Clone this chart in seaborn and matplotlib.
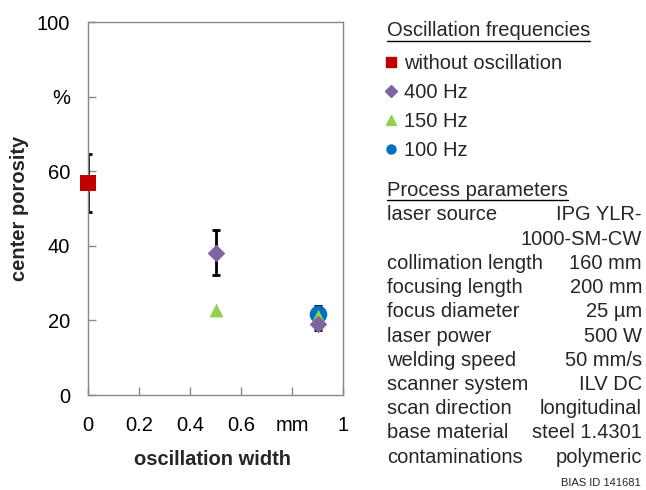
import seaborn as sns
import matplotlib.pyplot as plt
import pandas as pd
from matplotlib.lines import Line2D

# --- data ---
series = ['without oscillation', '400 Hz', '150 Hz', '100 Hz']
width_mm = [0.0, 0.5, 0.9, 0.5, 0.9, 0.9]
group = ['without oscillation', '400 Hz', '400 Hz', '150 Hz', '150 Hz', '100 Hz']
porosity = [56.8, 38.2, 19.0, 22.8, 21.3, 21.8]
err = [7.8, 6.0, 1.5, 0.0, 0.0, 2.1]

x_ticks = [0, 0.2, 0.4, 0.6, 0.8, 1.0]
x_ticklabels = ['0', '0.2', '0.4', '0.6', 'mm', '1']
y_ticks = [0, 20, 40, 60, 80, 100]
y_ticklabels = ['0', '20', '40', '60', '%', '100']

param_names = ['laser source', '', 'collimation length', 'focusing length',
               'focus diameter', 'laser power', 'welding speed', 'scanner system',
               'scan direction', 'base material', 'contaminations']
param_values = ['IPG YLR-', '1000-SM-CW', '160 mm', '200 mm', '25 µm', '500 W',
                '50 mm/s', 'ILV DC', 'longitudinal', 'steel 1.4301', 'polymeric']

colors = {'without oscillation': '#C00000', '400 Hz': '#8064A2',
          '150 Hz': '#92D050', '100 Hz': '#0070C0'}
markers = {'without oscillation': 's', '400 Hz': 'D', '150 Hz': '^', '100 Hz': 'o'}
sizes = {'without oscillation': 130, '400 Hz': 80, '150 Hz': 100, '100 Hz': 160}

df = pd.DataFrame({'width': width_mm, 'group': group, 'porosity': porosity, 'err': err})

sns.set_theme(style='white')
plt.rcParams['font.family'] = ['Liberation Sans', 'DejaVu Sans']
FS = 14.5

fig = plt.figure(figsize=(6.46, 4.9), dpi=100)
ax = fig.add_axes([88 / 646, 95 / 490, 255 / 646, 373 / 490])

# error bars first (black, behind markers)
eb = df[df['err'] > 0]
ax.errorbar(eb['width'], eb['porosity'], yerr=eb['err'], fmt='none',
            ecolor='black', elinewidth=2, capsize=3, capthick=2, zorder=1)

# draw order: 100 Hz, 150 Hz, 400 Hz on top, then red
for name in ['100 Hz', '150 Hz', '400 Hz', 'without oscillation']:
    sub = df[df['group'] == name]
    sns.scatterplot(data=sub, x='width', y='porosity', ax=ax, color=colors[name],
                    marker=markers[name], s=sizes[name], linewidth=0,
                    zorder=3, clip_on=False, legend=False)

ax.set_xlim(0, 1)
ax.set_ylim(0, 100)
ax.set_xticks(x_ticks)
ax.set_xticklabels(x_ticklabels, fontsize=FS)
ax.set_yticks(y_ticks)
ax.set_yticklabels(y_ticklabels, fontsize=FS)
ax.tick_params(axis='both', direction='in', length=6, width=1, color='#888888',
               labelcolor='black')
ax.tick_params(axis='x', pad=15, top=False, bottom=True)
ax.tick_params(axis='y', pad=13, left=True, right=False)
for sp in ax.spines.values():
    sp.set_color('#888888')
    sp.set_linewidth(1)

ax.set_xlabel('oscillation width', fontsize=FS, fontweight='bold')
ax.set_ylabel('center porosity', fontsize=FS, fontweight='bold')
ax.xaxis.set_label_coords((212 - 88) / 255, (395 - 459) / 373)
ax.yaxis.set_label_coords((20 - 88) / 255, 0.5)
ax.xaxis.label.set_va('center')
ax.yaxis.label.set_va('center')

# legend
handles = [Line2D([], [], linestyle='none', marker=markers[n], color=colors[n],
                  markersize=6.5) for n in series]
fig.legend(handles, series, loc='upper left', bbox_to_anchor=(386 / 646, 1 - 54 / 490),
           frameon=False, fontsize=FS, handlelength=0.5, handletextpad=0.4,
           labelspacing=0.50, borderaxespad=0, borderpad=0)

renderer = fig.canvas.get_renderer()


def underlined(x, y, s):
    t = fig.text(x / 646, 1 - y / 490, s, fontsize=FS, ha='left', va='center')
    bb = t.get_window_extent(renderer)
    yl = bb.y0 - 1
    fig.add_artist(Line2D([bb.x0 / 646, bb.x1 / 646], [yl / 490, yl / 490],
                          color='black', linewidth=1))


underlined(387, 31, 'Oscillation frequencies')
underlined(387, 190, 'Process parameters')

y0 = 215
for i, (nm, val) in enumerate(zip(param_names, param_values)):
    y = y0 + i * 24.2
    if nm:
        fig.text(387 / 646, 1 - y / 490, nm, fontsize=FS, ha='left', va='center')
    fig.text(642 / 646, 1 - y / 490, val, fontsize=FS, ha='right', va='center')

fig.text(641 / 646, 1 - 483 / 490, 'BIAS ID 141681', fontsize=8, ha='right', va='center')

fig.savefig('out.png', dpi=100)
